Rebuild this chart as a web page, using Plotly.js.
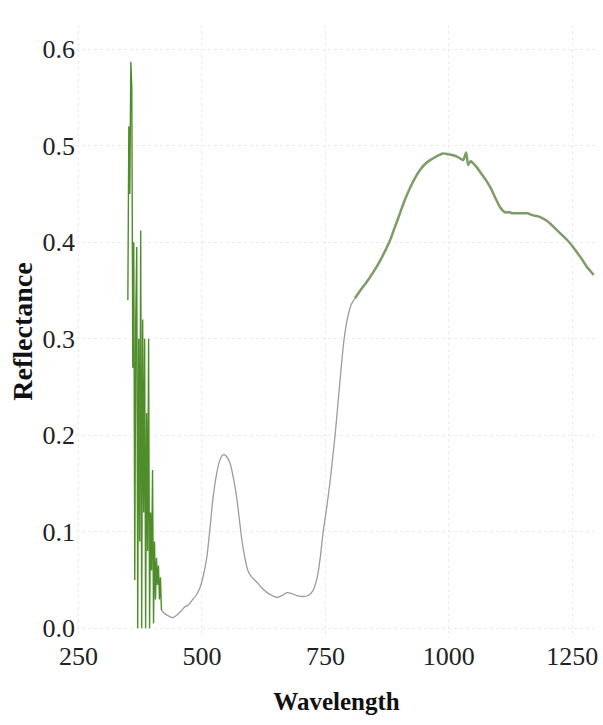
<!DOCTYPE html>
<html>
<head>
<meta charset="utf-8">
<script src="https://cdn.plot.ly/plotly-3.0.1.min.js"></script>
<style>html,body{margin:0;padding:0;background:#fff;}#chart{width:603px;height:725px;}</style>
</head>
<body>
<div id="chart"></div>
<script>
// Noisy UV region (wavelength nm, reflectance)
const noiseWavelength = [350,352,354,356,358,360,362,364,366,368,370,372,374,376,378,380,382,384,386,388,390,392,394,396,398,400,402,404,406,408,410,412,414,416,418];
const noiseReflectance = [0.34,0.52,0.45,0.587,0.56,0.27,0.40,0.05,0.32,0.395,0.0,0.30,0.09,0.412,0.0,0.32,0.12,0.30,0.0,0.223,0.08,0.30,0.0,0.12,0.06,0.164,0.005,0.09,0.03,0.073,0.045,0.065,0.03,0.053,0.019];

// Visible region
const visWavelength = [418,425,432,441,450,458,465,472,480,488,496,503,510,516,522,529,536,541,545,550,557,564,571,576,581,587,593,601,611,621,632,642,652,662,672,682,692,705,715,725,730,735,740,745,752,759,765,770,776,782,788,795,802,810];
const visReflectance = [0.019,0.015,0.013,0.011,0.014,0.018,0.022,0.024,0.029,0.034,0.042,0.055,0.074,0.102,0.133,0.158,0.174,0.179,0.180,0.178,0.171,0.155,0.133,0.112,0.091,0.073,0.060,0.053,0.048,0.042,0.037,0.034,0.032,0.034,0.037,0.036,0.034,0.033,0.034,0.039,0.046,0.057,0.075,0.098,0.123,0.150,0.178,0.202,0.236,0.270,0.300,0.322,0.335,0.342];

// Near-infrared region
const nirWavelength = [810,822,834,847,861,871,881,891,901,911,922,932,942,952,962,975,988,999,1009,1019,1029,1035,1039,1044,1049,1056,1063,1070,1078,1086,1094,1104,1114,1122,1130,1145,1159,1169,1179,1189,1199,1210,1220,1230,1240,1250,1260,1270,1280,1287,1293];
const nirReflectance = [0.342,0.351,0.359,0.369,0.381,0.391,0.402,0.416,0.430,0.444,0.457,0.467,0.475,0.481,0.485,0.489,0.492,0.491,0.490,0.488,0.485,0.493,0.480,0.484,0.482,0.478,0.473,0.468,0.462,0.455,0.446,0.436,0.431,0.431,0.430,0.430,0.430,0.428,0.427,0.425,0.422,0.417,0.412,0.407,0.402,0.396,0.389,0.382,0.374,0.370,0.366];

const xTicks = [250,500,750,1000,1250];
const yTicks = [0.0,0.1,0.2,0.3,0.4,0.5,0.6];

const traces = [
  {x: visWavelength, y: visReflectance, type:'scatter', mode:'lines', line:{color:'#9a9e96', width:1.3, shape:'spline', smoothing:0.6}, hoverinfo:'skip'},
  {x: nirWavelength, y: nirReflectance, type:'scatter', mode:'lines', line:{color:'#7d9c68', width:2.5, shape:'spline', smoothing:0.6}, hoverinfo:'skip'},
  {x: noiseWavelength, y: noiseReflectance, type:'scatter', mode:'lines', line:{color:'#4f8d2b', width:1.4}, hoverinfo:'skip'}
];

const layout = {
  width:603, height:725,
  margin:{l:76, r:6, t:25, b:87},
  paper_bgcolor:'#fff', plot_bgcolor:'#fff',
  showlegend:false,
  font:{family:'"Liberation Serif", "Times New Roman", serif', color:'#222', size:26},
  xaxis:{
    range:[245,1300], tickvals:xTicks, ticktext:xTicks.map(String),
    showgrid:true, gridcolor:'#ebebeb', griddash:'dot', gridwidth:1,
    zeroline:false, showline:false, ticks:'',
    tickfont:{size:26},
    title:{text:'<b>Wavelength</b>', font:{size:25, color:'#111'}, standoff:22}
  },
  yaxis:{
    range:[-0.01,0.625], tickvals:yTicks, ticktext:yTicks.map(v=>v.toFixed(1)),
    showgrid:true, gridcolor:'#ebebeb', griddash:'dot', gridwidth:1,
    zeroline:false, showline:false, ticks:'',
    tickfont:{size:26},
    title:{text:'<b>Reflectance</b>', font:{size:28, color:'#111'}, standoff:1}
  }
};

Plotly.newPlot('chart', traces, layout, {staticPlot:true, displayModeBar:false});
</script>
</body>
</html>
